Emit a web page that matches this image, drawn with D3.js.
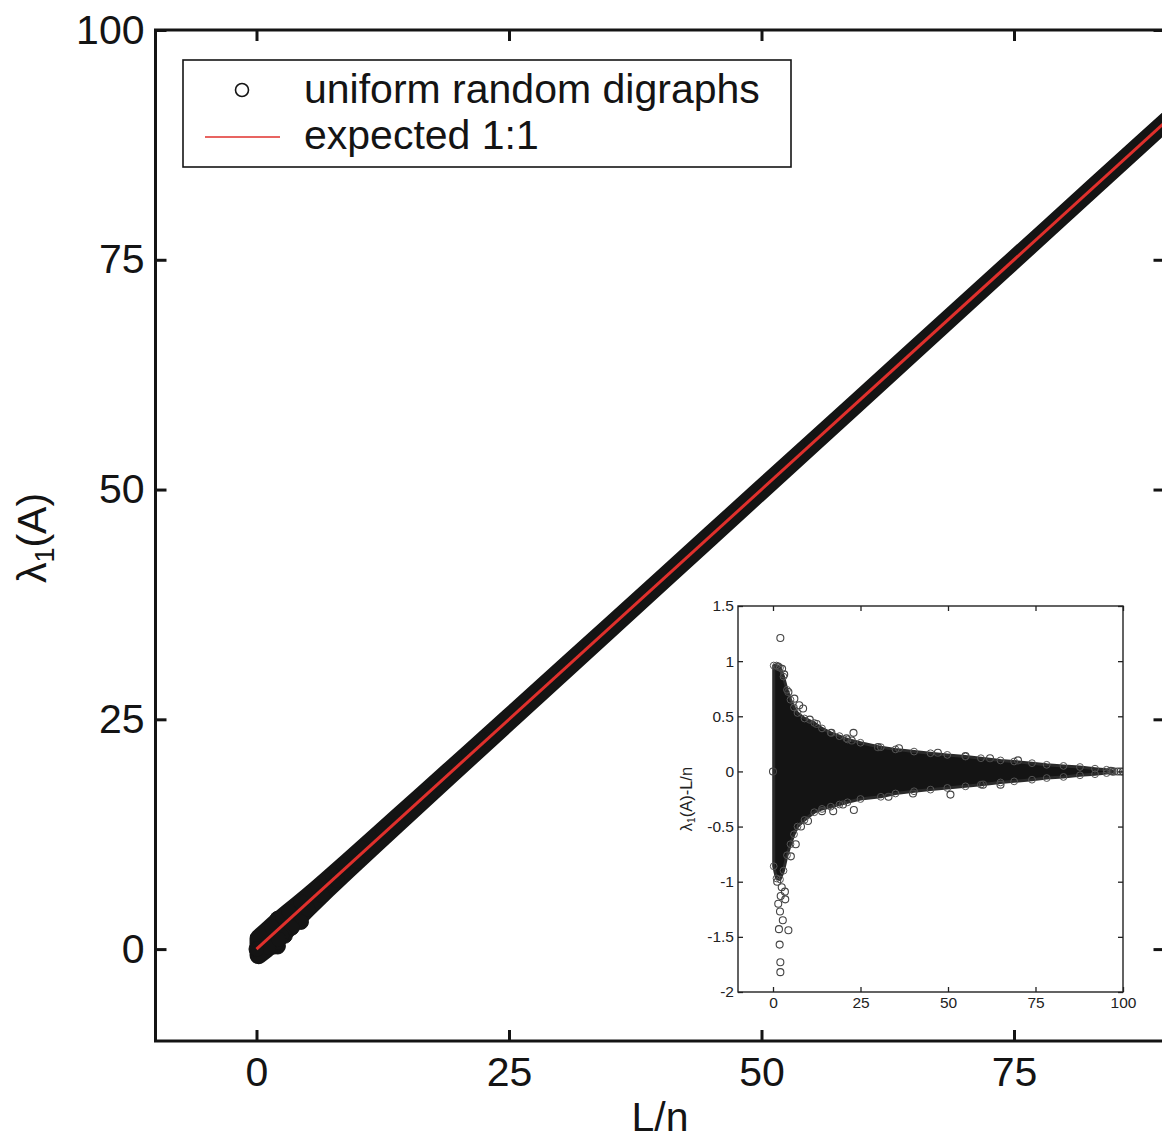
<!DOCTYPE html>
<html>
<head>
<meta charset="utf-8">
<script src="https://cdn.jsdelivr.net/npm/d3@7"></script>
<style>
  html, body { margin: 0; padding: 0; background: #fff; overflow: hidden; }
  svg { display: block; }
  text { font-family: "Liberation Sans", Arial, Helvetica, sans-serif; }
</style>
</head>
<body>
<svg id="chart" width="1162" height="1139"></svg>
<script>
// ---- data -------------------------------------------------------------
// L/n sample positions along the cloud and the extent of the residual
// lambda1(A) - L/n above and below zero at each position
const sampleL  = [0.2, 1, 2, 3, 4, 5, 6, 7, 9, 11.8, 14, 16.5, 19, 21.3, 25, 30.8, 35, 40.3, 45, 49.8, 55, 59.4, 65, 68.9, 74, 78.2, 83, 87.7, 92, 95.3, 97];
const residUp  = [0.96, 0.96, 0.94, 0.86, 0.74, 0.65, 0.58, 0.53, 0.48, 0.44, 0.39, 0.35, 0.32, 0.29, 0.26, 0.22, 0.20, 0.18, 0.165, 0.15, 0.135, 0.12, 0.10, 0.09, 0.075, 0.06, 0.05, 0.04, 0.025, 0.015, 0.005];
const residLow = [-0.86, -0.97, -0.98, -0.90, -0.76, -0.66, -0.57, -0.50, -0.44, -0.37, -0.34, -0.32, -0.30, -0.28, -0.25, -0.23, -0.20, -0.18, -0.165, -0.15, -0.135, -0.12, -0.10, -0.09, -0.075, -0.06, -0.05, -0.035, -0.025, -0.015, -0.005];

// isolated digraphs lying outside the dense cloud: [L/n, lambda1(A) - L/n]
const strayL = [2.1, 1.5, 2.6, 3.2, 4.4, 6.1, 8.6, 7.5, 10.5, 12.5, 16.7, 21, 23, 22.5, 30, 36, 47.1, 55, 62, 70,
                50.7, 23.1, 17.2, 20, 14, 10, 8, 6.5, 5.1, 4.4, 1.9, 2.1, 2.1, 3.4, 3.5, 2.8, 1.7, 1.5, 2.0, 2.5, 1.2, 2.2, 65, 60, 40, 33,
                0, 96.5, 97.5, 98.5, 99.3, 100];
const strayR = [1.21, 0.95, 0.93, 0.88, 0.72, 0.66, 0.57, 0.60, 0.47, 0.43, 0.35, 0.30, 0.35, 0.28, 0.22, 0.21, 0.17, 0.14, 0.12, 0.10,
                -0.21, -0.35, -0.36, -0.30, -0.36, -0.45, -0.50, -0.66, -0.77, -1.44, -1.57, -1.73, -1.82, -1.09, -1.16, -1.35, -1.43, -1.20, -1.27, -1.05, -1.00, -1.13, -0.12, -0.12, -0.20, -0.23,
                0, 0.005, 0, 0, 0, 0];

// expected relation lambda1 = L/n
const expectedL = [0, 100];

const mainXTicks = [0, 25, 50, 75];
const mainYTicks = [0, 25, 50, 75, 100];
const insetXTicks = [0, 25, 50, 75, 100];
const insetYTicks = [-2, -1.5, -1, -0.5, 0, 0.5, 1, 1.5];

const legendLabels = ["uniform random digraphs", "expected 1:1"];

// ---- layout ----------------------------------------------------------
const svg = d3.select("#chart");
const ink = "#141414";
const red = "#e0302c";

const x = d3.scaleLinear().domain([-10, 90]).range([155.5, 1165.5]);
const y = d3.scaleLinear().domain([-10, 100]).range([1041, 30]);

const cloud = sampleL.map((L, i) => ({L, up: residUp[i], low: residLow[i]}));
const strays = strayL.map((L, i) => ({L, r: strayR[i]}));

svg.append("clipPath").attr("id", "mainClip")
  .append("rect")
  .attr("x", x.range()[0]).attr("y", y.range()[1])
  .attr("width", x.range()[1] - x.range()[0])
  .attr("height", y.range()[0] - y.range()[1]);

const plot = svg.append("g").attr("clip-path", "url(#mainClip)");

// dense band of lambda1(A) versus L/n; the wide stroke stands for the marker size
plot.append("path")
  .datum(cloud)
  .attr("d", d3.area()
    .x(d => x(d.L))
    .y0(d => y(d.L + d.low))
    .y1(d => y(d.L + d.up)))
  .attr("fill", ink)
  .attr("stroke", ink)
  .attr("stroke-width", 18)
  .attr("stroke-linejoin", "round")
  .attr("stroke-linecap", "round");

plot.selectAll("circle.stray")
  .data(strays)
  .join("circle")
  .attr("class", "stray")
  .attr("cx", d => x(d.L))
  .attr("cy", d => y(d.L + d.r))
  .attr("r", 7.5)
  .attr("fill", ink)
  .attr("stroke", ink)
  .attr("stroke-width", 1);

plot.append("path")
  .datum(expectedL)
  .attr("d", d3.line().x(d => x(d)).y(d => y(d)))
  .attr("stroke", red)
  .attr("stroke-width", 3)
  .attr("fill", "none");

// frame and inward ticks
const axisStyle = g => {
  g.select(".domain").remove();
  g.selectAll(".tick line").attr("stroke", ink).attr("stroke-width", 3);
  g.selectAll(".tick text").attr("fill", ink).attr("font-size", 41);
};

svg.append("g")
  .attr("transform", `translate(${x.range()[0]},0)`)
  .call(d3.axisLeft(y).tickValues(mainYTicks).tickSize(-11).tickPadding(11).tickFormat(d3.format("d")))
  .call(axisStyle);

svg.append("g")
  .attr("transform", `translate(0,${y.range()[0]})`)
  .call(d3.axisBottom(x).tickValues(mainXTicks).tickSize(-11).tickPadding(16).tickFormat(d3.format("d")))
  .call(axisStyle);

svg.append("g")
  .attr("transform", `translate(0,${y.range()[1]})`)
  .call(d3.axisTop(x).tickValues(mainXTicks).tickSize(-11).tickFormat(""))
  .call(axisStyle);

svg.append("g")
  .attr("transform", `translate(${x.range()[1] - 1},0)`)
  .call(d3.axisRight(y).tickValues(mainYTicks).tickSize(-11).tickFormat(""))
  .call(axisStyle);

svg.append("rect")
  .attr("x", x.range()[0]).attr("y", y.range()[1])
  .attr("width", x.range()[1] - x.range()[0])
  .attr("height", y.range()[0] - y.range()[1])
  .attr("fill", "none")
  .attr("stroke", ink)
  .attr("stroke-width", 3);

// axis titles
svg.append("text")
  .attr("x", 660).attr("y", 1131)
  .attr("text-anchor", "middle")
  .attr("font-size", 41)
  .attr("fill", ink)
  .text("L/n");

const yTitle = svg.append("text")
  .attr("transform", "translate(46,538) rotate(-90)")
  .attr("text-anchor", "middle")
  .attr("font-size", 41)
  .attr("fill", ink);
yTitle.append("tspan").text("λ");
yTitle.append("tspan").attr("font-size", 27).attr("dy", 8).text("1");
yTitle.append("tspan").attr("dy", -8).text("(A)");

// legend
const legend = svg.append("g");
legend.append("rect")
  .attr("x", 183).attr("y", 60).attr("width", 608).attr("height", 107)
  .attr("fill", "#fff").attr("stroke", ink).attr("stroke-width", 1.6);
legend.append("circle")
  .attr("cx", 242).attr("cy", 90).attr("r", 6.5)
  .attr("fill", "none").attr("stroke", ink).attr("stroke-width", 1.6);
legend.append("line")
  .attr("x1", 205).attr("x2", 280).attr("y1", 137).attr("y2", 137)
  .attr("stroke", red).attr("stroke-width", 1.6);
legend.selectAll("text")
  .data(legendLabels)
  .join("text")
  .attr("x", 304)
  .attr("y", (d, i) => 103 + i * 46)
  .attr("font-size", 41)
  .attr("fill", ink)
  .text(d => d);

// ---- inset: residual lambda1(A) - L/n ---------------------------------
const ix = d3.scaleLinear().domain([-10, 100]).range([738, 1123]);
const iy = d3.scaleLinear().domain([-2, 1.5]).range([992, 606]);
const insetInk = "#222";

svg.append("rect")
  .attr("x", 738).attr("y", 606).attr("width", 385).attr("height", 386)
  .attr("fill", "#fff");

svg.append("clipPath").attr("id", "insetClip")
  .append("rect").attr("x", 738).attr("y", 606).attr("width", 385).attr("height", 386);

const inset = svg.append("g").attr("clip-path", "url(#insetClip)");

inset.append("path")
  .datum(cloud)
  .attr("d", d3.area()
    .x(d => ix(d.L))
    .y0(d => iy(d.low))
    .y1(d => iy(d.up)))
  .attr("fill", ink)
  .attr("stroke", "#2a2a2a")
  .attr("stroke-width", 3)
  .attr("stroke-linejoin", "round");

// marker rims along the edge of the cloud
inset.selectAll("circle.rimUp")
  .data(cloud)
  .join("circle")
  .attr("class", "rimUp")
  .attr("cx", d => ix(d.L))
  .attr("cy", d => iy(d.up))
  .attr("r", 3.4)
  .attr("fill", "none")
  .attr("stroke", "#555")
  .attr("stroke-width", 1);
inset.selectAll("circle.rimLow")
  .data(cloud)
  .join("circle")
  .attr("class", "rimLow")
  .attr("cx", d => ix(d.L))
  .attr("cy", d => iy(d.low))
  .attr("r", 3.4)
  .attr("fill", "none")
  .attr("stroke", "#555")
  .attr("stroke-width", 1);

inset.selectAll("circle.stray")
  .data(strays)
  .join("circle")
  .attr("class", "stray")
  .attr("cx", d => ix(d.L))
  .attr("cy", d => iy(d.r))
  .attr("r", 3.5)
  .attr("fill", "none")
  .attr("stroke", "#444")
  .attr("stroke-width", 1.1);

const insetAxisStyle = g => {
  g.select(".domain").remove();
  g.selectAll(".tick line").attr("stroke", insetInk).attr("stroke-width", 1.3);
  g.selectAll(".tick text").attr("fill", insetInk).attr("font-size", 15.5);
};

svg.append("g")
  .attr("transform", "translate(738,0)")
  .call(d3.axisLeft(iy).tickValues(insetYTicks).tickSize(-5).tickPadding(4).tickFormat(d => String(d)))
  .call(insetAxisStyle);
svg.append("g")
  .attr("transform", "translate(1123,0)")
  .call(d3.axisRight(iy).tickValues(insetYTicks).tickSize(-5).tickFormat(""))
  .call(insetAxisStyle);
svg.append("g")
  .attr("transform", "translate(0,992)")
  .call(d3.axisBottom(ix).tickValues(insetXTicks).tickSize(-5).tickPadding(5).tickFormat(d3.format("d")))
  .call(insetAxisStyle);
svg.append("g")
  .attr("transform", "translate(0,606)")
  .call(d3.axisTop(ix).tickValues(insetXTicks).tickSize(-5).tickFormat(""))
  .call(insetAxisStyle);

svg.append("rect")
  .attr("x", 738).attr("y", 606).attr("width", 385).attr("height", 386)
  .attr("fill", "none").attr("stroke", insetInk).attr("stroke-width", 1.4);

const iTitle = svg.append("text")
  .attr("transform", "translate(692,799) rotate(-90)")
  .attr("text-anchor", "middle")
  .attr("font-size", 16.5)
  .attr("fill", insetInk);
iTitle.append("tspan").text("λ");
iTitle.append("tspan").attr("font-size", 10).attr("dy", 3).text("1");
iTitle.append("tspan").attr("dy", -3).text("(A)-L/n");
</script>
</body>
</html>
